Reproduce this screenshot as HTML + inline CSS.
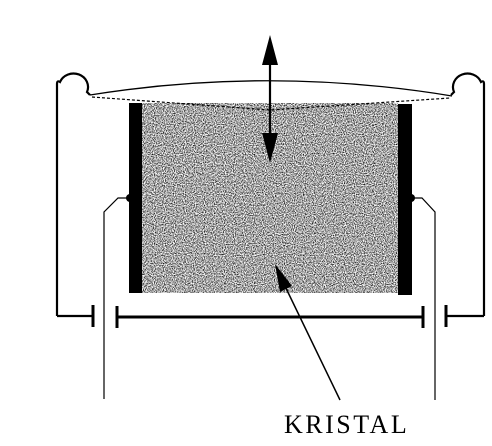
<!DOCTYPE html>
<html><head><meta charset="utf-8"><style>
html,body{margin:0;padding:0;background:#fff;}
svg{display:block;}
</style></head><body>
<svg width="492" height="446" viewBox="0 0 492 446" xmlns="http://www.w3.org/2000/svg">
  <defs>
    <filter id="grain" x="0" y="0" width="100%" height="100%">
      <feTurbulence type="fractalNoise" baseFrequency="0.9" numOctaves="2" seed="3" result="n"/>
      <feColorMatrix type="matrix" values="0 0 0 0 0  0 0 0 0 0  0 0 0 0 0  0 0 0 -2.2 1.45" in="n" result="a"/>
      <feComposite in="SourceGraphic" in2="a" operator="in"/>
    </filter>
  </defs>
  <g stroke="#000" fill="none" stroke-width="2.2">
    <path d="M57 316 L57 84 Q57 80 60 82 A14 13 0 0 1 87 92 L90 95"/>
    <path d="M57 316 L93 316"/>
    <path d="M484 316 L484 84 Q484 80 481 82 A14 13 0 0 0 454 92 L451 95"/>
    <path d="M446 316 L484 316"/>
    <line x1="93" y1="305" x2="93" y2="327" stroke-width="3"/>
    <line x1="446" y1="305" x2="446" y2="327" stroke-width="3"/>
    <line x1="117" y1="317" x2="423" y2="317" stroke-width="3"/>
    <line x1="117" y1="306" x2="117" y2="328" stroke-width="3"/>
    <line x1="423" y1="306" x2="423" y2="328" stroke-width="3"/>
    <path stroke-width="1.3" d="M90 95 Q270 66 452 96"/>
    <path stroke-width="1.2" stroke-dasharray="3 2" d="M92 97 L270 110 L450 98"/>
    <path stroke-width="1.2" d="M129 198 L118 198 L104 212 L104 399"/>
    <path stroke-width="1.2" d="M412 198 L422 198 L435 212 L435 400"/>
  </g>
  <rect x="142" y="103" width="256" height="190" fill="#000" filter="url(#grain)"/>
  <rect x="129" y="103" width="13" height="190" fill="#000"/>
  <rect x="398" y="104" width="14" height="191" fill="#000"/>
  <circle cx="130" cy="198" r="4" fill="#000"/>
  <circle cx="411" cy="198" r="4" fill="#000"/>
  <g>
    <line x1="270" y1="50" x2="270" y2="145" stroke="#000" stroke-width="2.2"/>
    <polygon points="270,35 262,65 278,65" fill="#000"/>
    <polygon points="270,163 262,133 278,133" fill="#000"/>
  </g>
  <line x1="340" y1="400" x2="283" y2="282" stroke="#000" stroke-width="1.5"/>
  <polygon points="275,264 280,292 292,286" fill="#000"/>
  <text x="284" y="433" font-family="'Liberation Serif', serif" font-size="26" letter-spacing="2.5" fill="#000">KRISTAL</text>
</svg>
</body></html>
